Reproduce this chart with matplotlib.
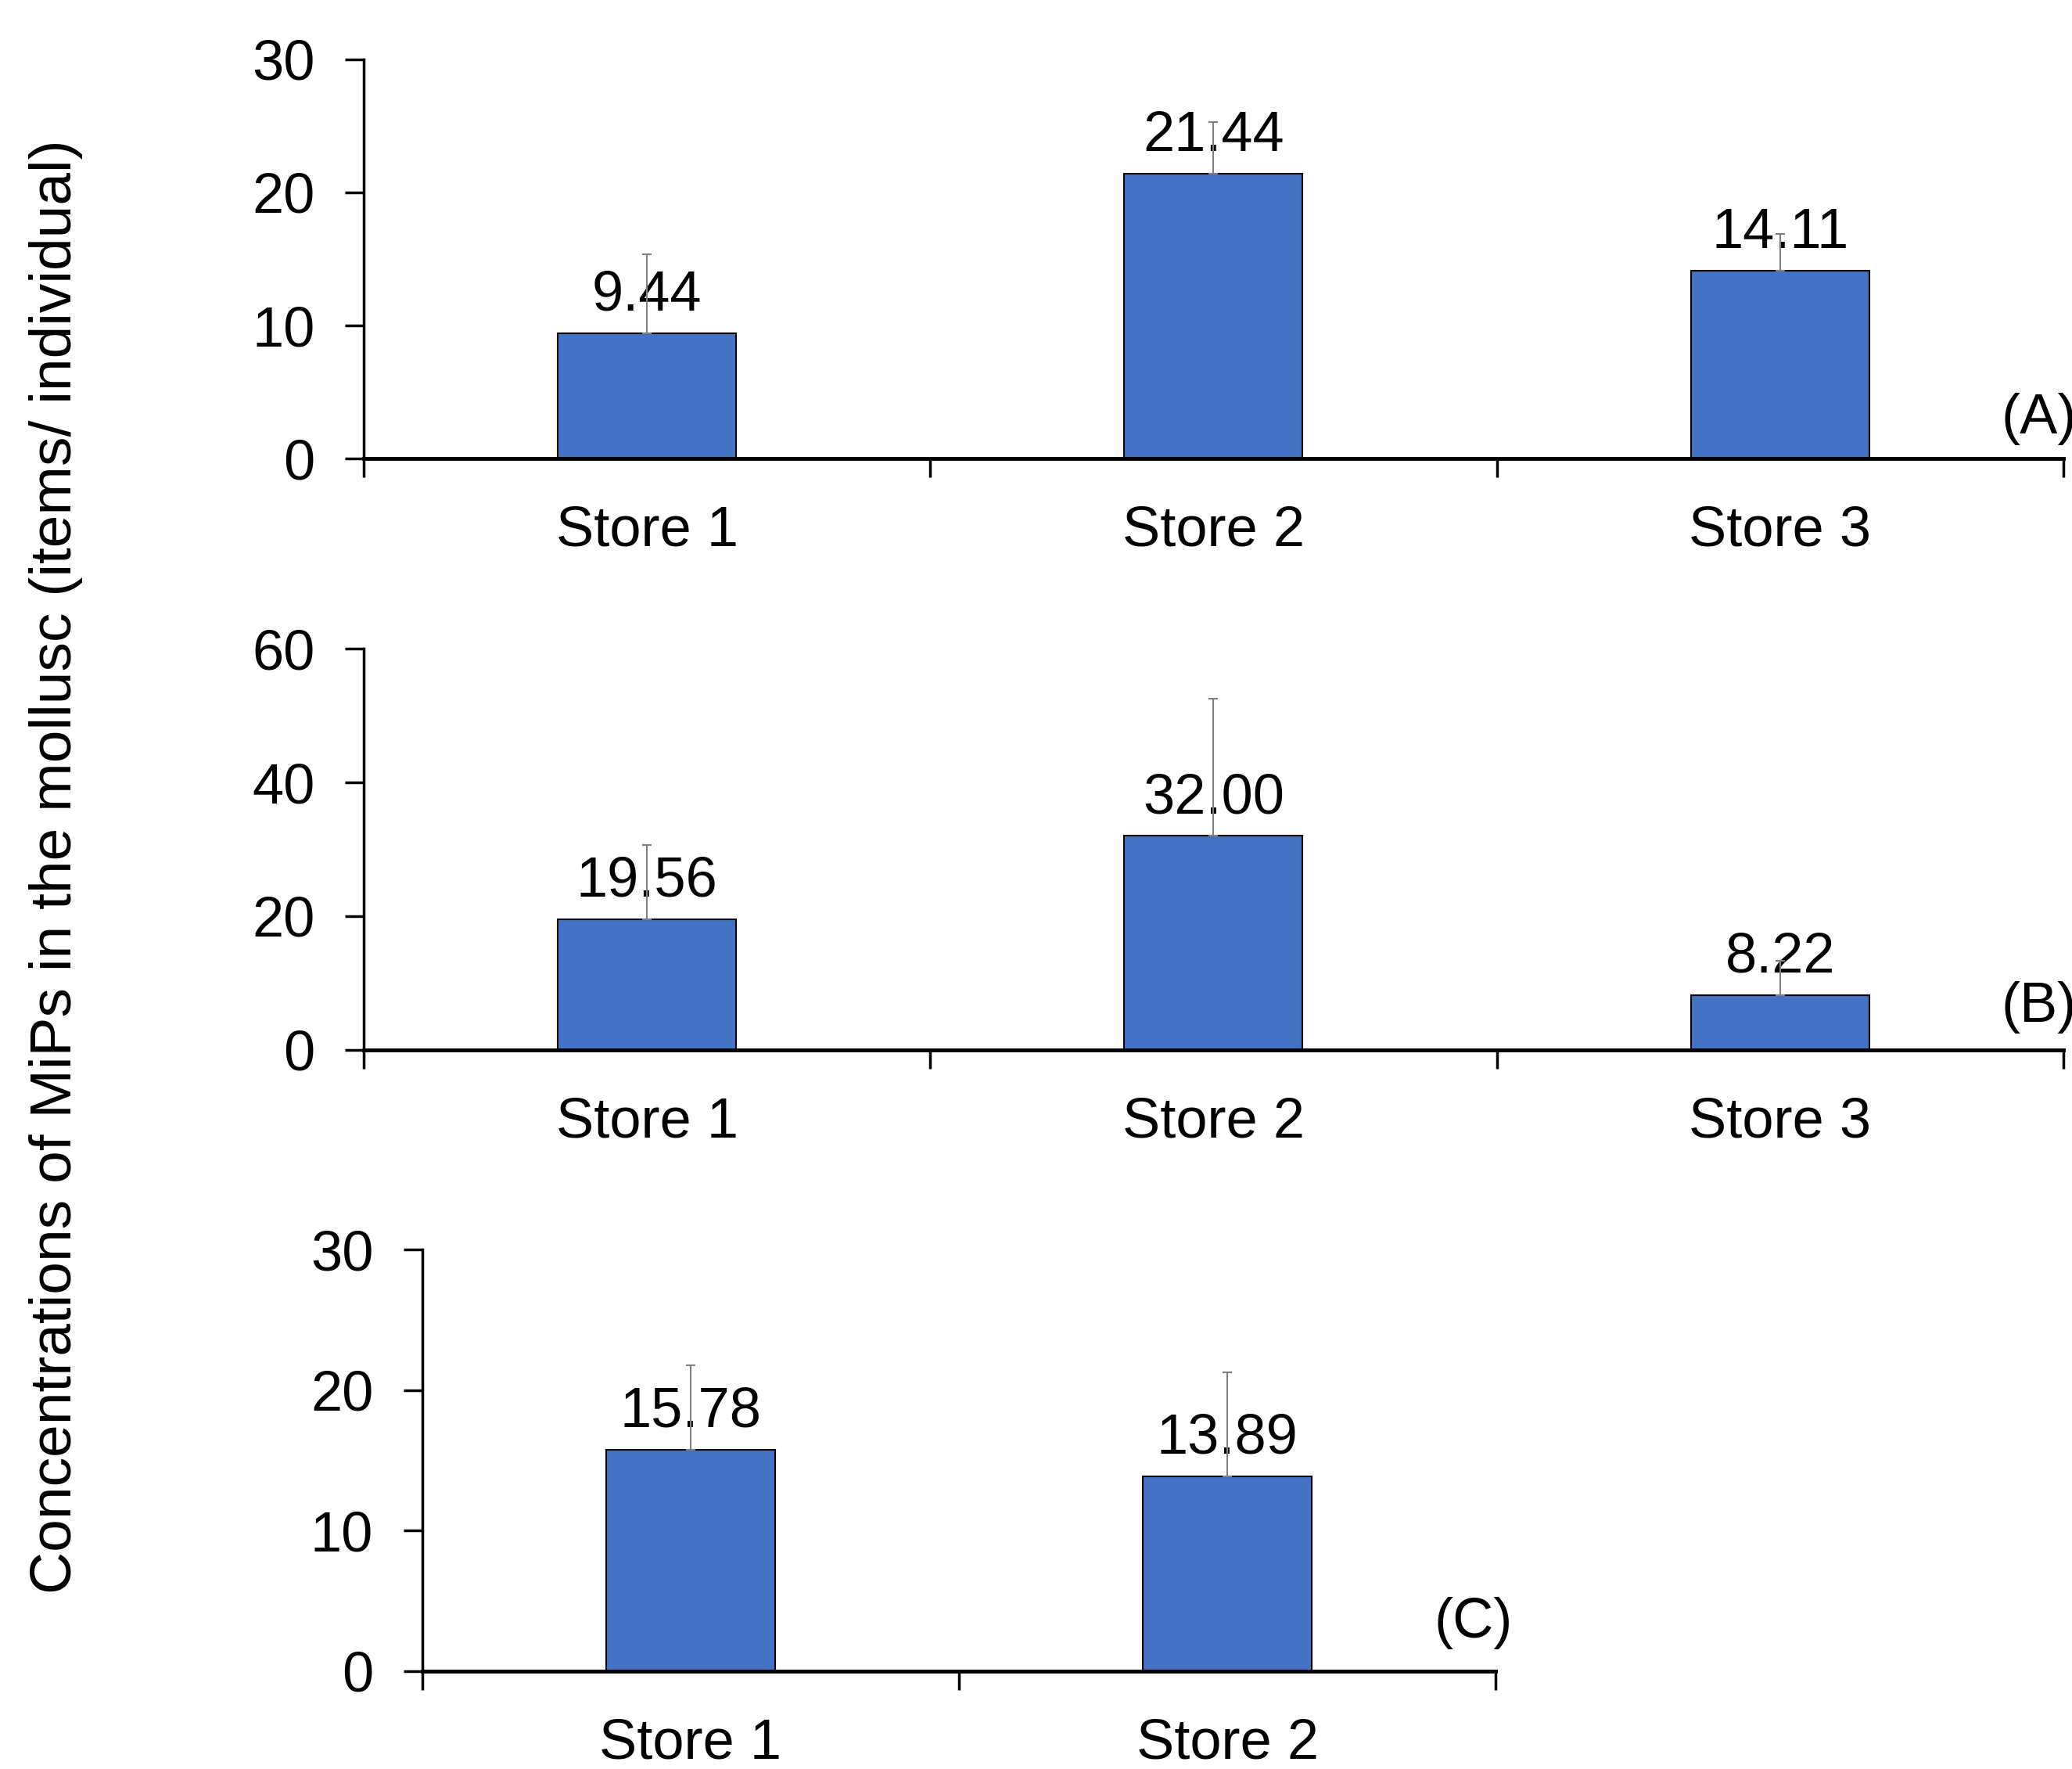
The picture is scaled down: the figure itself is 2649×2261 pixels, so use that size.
import matplotlib.pyplot as plt

plt.rcParams['font.family'] = ['Liberation Sans', 'DejaVu Sans']

stores_ab = ['Store 1', 'Store 2', 'Store 3']
stores_c = ['Store 1', 'Store 2']

vals_a = [9.44, 21.44, 14.11]
err_a = [5.94, 3.85, 2.8]
vals_b = [19.56, 32.00, 8.22]
err_b = [11.1, 20.5, 5.1]
vals_c = [15.78, 13.89]
err_c = [6.0, 7.4]

yticks_a = [0, 10, 20, 30]
yticks_b = [0, 20, 40, 60]
yticks_c = [0, 10, 20, 30]

BAR = '#4472C4'
FS = 52


def draw_panel(ax, cats, vals, errs, yticks, tag, tag_pos):
    n = len(cats)
    xs = [i + 0.5 for i in range(n)]
    ax.bar(xs, vals, width=0.315, color=BAR, edgecolor='black', linewidth=1.5, zorder=2)
    ax.errorbar(xs, vals, yerr=[[0] * n, errs], fmt='none', ecolor='#808080',
                elinewidth=1.5, capsize=4, capthick=1.5, zorder=3)
    for x, v in zip(xs, vals):
        ax.annotate(f'{v:.2f}', (x, v), xytext=(0, 10), textcoords='offset points',
                    ha='center', va='bottom', fontsize=FS, zorder=1)
    ax.set_xlim(0, n)
    ax.set_ylim(yticks[0], yticks[-1])
    ax.set_yticks(yticks)
    ax.set_xticks(range(n + 1))
    ax.set_xticklabels([])
    ax.set_xticks(xs, minor=True)
    ax.set_xticklabels(cats, minor=True)
    ax.tick_params(axis='x', which='minor', length=0, pad=43, labelsize=FS)
    ax.tick_params(axis='x', which='major', length=17, width=2.5)
    ax.tick_params(axis='y', length=17, width=2.5, pad=28, labelsize=FS)
    for s in ['top', 'right']:
        ax.spines[s].set_visible(False)
    ax.spines['left'].set_linewidth(2.5)
    ax.spines['bottom'].set_linewidth(3.5)
    ax.text(tag_pos[0], tag_pos[1], tag, fontsize=FS, ha='left', va='center', clip_on=False)


fig = plt.figure(figsize=(26.49, 22.61), dpi=100)
ax_a = fig.add_axes([0.1755, 0.7408, 0.8203, 0.2256])
ax_b = fig.add_axes([0.1755, 0.4065, 0.8203, 0.2268])
ax_c = fig.add_axes([0.2038, 0.0553, 0.5180, 0.2382])

draw_panel(ax_a, stores_ab, vals_a, err_a, yticks_a, '(A)', (2.89, 3.0))
draw_panel(ax_b, stores_ab, vals_b, err_b, yticks_b, '(B)', (2.89, 6.4))
draw_panel(ax_c, stores_c, vals_c, err_c, yticks_c, '(C)', (1.885, 3.45))

fig.text(0.027, 0.51, 'Concentrations of MiPs in the mollusc (items/ individual)',
         rotation=90, ha='center', va='center', fontsize=54)

fig.savefig('out.png', dpi=100)
